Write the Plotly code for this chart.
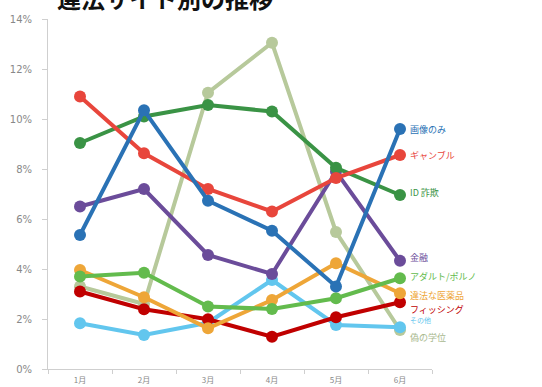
import plotly.graph_objects as go

months = ["1月", "2月", "3月", "4月", "5月", "6月"]

series_names = ["偽の学位", "その他", "フィッシング", "違法な医薬品", "アダルト/ポルノ",
                "金融", "ID 詐欺", "ギャンブル", "画像のみ"]

gakui     = [3.3, 2.6, 11.05, 13.05, 5.48, 1.56]
sonota    = [1.83, 1.36, 1.85, 3.56, 1.76, 1.67]
phishing  = [3.1, 2.39, 1.99, 1.29, 2.07, 2.67]
iyakuhin  = [3.96, 2.87, 1.63, 2.76, 4.23, 3.03]
adult     = [3.7, 3.85, 2.5, 2.4, 2.83, 3.63]
kinyu     = [6.5, 7.2, 4.56, 3.8, 7.9, 4.33]
sagi      = [9.04, 10.1, 10.56, 10.3, 8.05, 6.96]
gamble    = [10.9, 8.63, 7.2, 6.3, 7.64, 8.56]
gazou     = [5.36, 10.35, 6.73, 5.53, 3.3, 9.6]

values = [gakui, sonota, phishing, iyakuhin, adult, kinyu, sagi, gamble, gazou]

colors = ["#b7c99b", "#62c6ee", "#c00000", "#eea638", "#63bb4d",
          "#6b4c9a", "#3a9345", "#e8463c", "#2a72b5"]
label_colors = ["#a9b98f", "#62c6ee", "#c00000", "#eea638", "#63bb4d",
                "#6b4c9a", "#3a9345", "#e8463c", "#2a72b5"]
label_shift = [-7, 7, -7, -2, 2, 3, 3, 0, 0]
label_size = [9, 7, 9, 9, 9, 9, 9, 9, 9]

fig = go.Figure()
for name, vals, col in zip(series_names, values, colors):
    fig.add_trace(go.Scatter(
        x=months, y=[v / 100 for v in vals], mode="lines+markers", name=name,
        line=dict(color=col, width=4),
        marker=dict(color=col, size=12),
        showlegend=False, cliponaxis=False,
    ))

for name, vals, col, sh, sz in zip(series_names, values, label_colors, label_shift, label_size):
    fig.add_annotation(
        x=months[-1], y=vals[-1] / 100, text=name, showarrow=False,
        xanchor="left", yanchor="middle", xshift=8, yshift=sh,
        font=dict(size=sz, color=col, family="Noto Sans CJK JP"),
    )

fig.add_annotation(
    xref="paper", yref="paper", x=0.305, xanchor="center", y=1, yanchor="bottom", yshift=2,
    text="<b>違法サイト別の推移</b>", showarrow=False,
    font=dict(size=24, color="#111111", family="Noto Sans CJK JP"),
)

fig.update_layout(
    width=542, height=387,
    margin=dict(l=48, r=110, t=19, b=18),
    paper_bgcolor="white", plot_bgcolor="white",
    font=dict(family="Noto Sans CJK JP", size=9, color="#888888"),
)
fig.update_xaxes(
    type="category", range=[-0.5, 5.5], showgrid=False, automargin=False,
    showline=True, linecolor="#cfcfcf", linewidth=1,
    ticks="outside", tickson="boundaries", ticklen=4, tickcolor="#cfcfcf",
    ticklabelstandoff=3,
    tickfont=dict(size=8, color="#888888"),
)
fig.update_yaxes(
    range=[0, 0.14], dtick=0.02, tickformat=".0%", showgrid=False, automargin=False,
    showline=True, linecolor="#cfcfcf", linewidth=1,
    ticks="outside", ticklen=5, tickcolor="#cfcfcf",
    ticklabelstandoff=8,
    tickfont=dict(size=10, color="#888888", family="DejaVu Sans"),
    zeroline=False,
)

fig.write_html("out.html")
